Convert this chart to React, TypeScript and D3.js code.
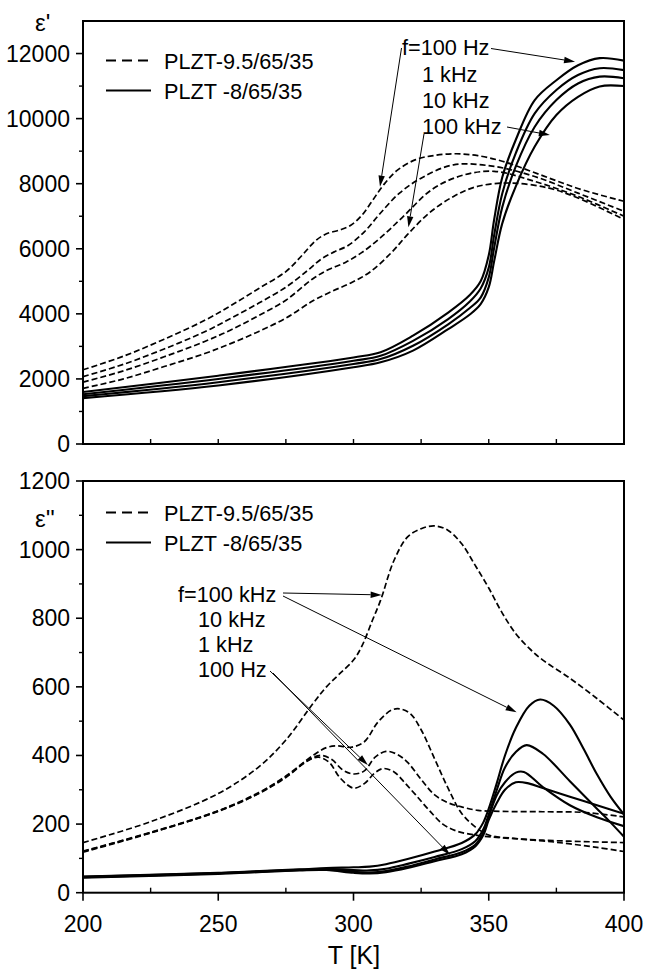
import React from 'react';
import * as d3 from 'd3';

type P = [number, number];

// ---------- Data: ε' (top panel) ----------
// PLZT-9.5/65/35 (dashed)
const epsR_95_100Hz: P[] = [[200,2280],[215,2700],[230,3220],[245,3800],[255,4270],[265,4780],[275,5300],[281,5800],[286,6250],[290,6460],[295,6580],[299,6720],[303,7020],[307,7480],[311,7950],[316,8400],[323,8740],[330,8870],[338,8920],[346,8860],[355,8690],[365,8400],[375,8090],[385,7800],[400,7460]];
const epsR_95_1kHz: P[] = [[200,2070],[215,2450],[230,2920],[245,3450],[255,3880],[265,4330],[275,4820],[283,5330],[288,5680],[293,5910],[298,6100],[304,6520],[310,7100],[317,7710],[325,8170],[337,8580],[352,8530],[367,8220],[383,7710],[400,7150]];
const epsR_95_10kHz: P[] = [[200,1900],[215,2250],[230,2680],[245,3150],[255,3520],[265,3950],[275,4420],[285,5080],[291,5370],[297,5580],[303,5880],[310,6340],[318,6960],[329,7820],[340,8250],[352,8380],[367,8070],[383,7610],[400,7000]];
const epsR_95_100kHz: P[] = [[200,1710],[215,2000],[230,2380],[245,2780],[255,3100],[265,3460],[275,3870],[285,4400],[292,4690],[299,4950],[306,5280],[314,5880],[320,6440],[328,7100],[337,7610],[346,7920],[358,8020],[372,7870],[383,7560],[400,6900]];
// PLZT-8/65/35 (solid)
const epsR_8_100Hz: P[] = [[200,1600],[250,2100],[300,2660],[310,2820],[322,3330],[335,4040],[343,4580],[347,5000],[350,5800],[352,6900],[355,8200],[360,9350],[367,10570],[375,11180],[383,11640],[391,11860],[400,11780]];
const epsR_8_1kHz: P[] = [[200,1530],[250,2000],[300,2560],[310,2710],[322,3170],[335,3840],[343,4380],[347,4780],[350,5420],[352,6420],[355,7700],[360,8940],[367,10160],[375,10880],[383,11340],[391,11550],[400,11490]];
const epsR_8_10kHz: P[] = [[200,1470],[250,1900],[300,2460],[310,2610],[322,3020],[335,3680],[343,4180],[347,4500],[350,5120],[352,6030],[355,7280],[360,8530],[367,9750],[375,10570],[383,11080],[391,11290],[400,11240]];
const epsR_8_100kHz: P[] = [[200,1410],[250,1800],[300,2360],[310,2510],[322,2870],[335,3530],[343,3980],[347,4300],[350,4820],[352,5620],[355,6780],[360,7920],[367,9140],[375,10110],[383,10670],[391,10990],[400,11000]];

// ---------- Data: ε'' (bottom panel) ----------
// PLZT-9.5/65/35 (dashed)
const epsI_95_a: P[] = [[200,146],[225,207],[250,289],[265,367],[275,445],[285,551],[290,600],[295,639],[300,678],[303,717],[307,794],[310,852],[315,969],[320,1037],[325,1061],[330,1069],[335,1056],[340,1017],[345,954],[350,888],[355,815],[360,755],[365,712],[370,678],[380,625],[390,566],[400,503]];
const epsI_95_b: P[] = [[200,121],[225,176],[250,239],[265,292],[275,340],[285,400],[290,423],[294,428],[299,424],[304,440],[309,497],[314,532],[317,536],[321,522],[325,475],[330,390],[335,304],[340,231],[345,192],[350,168],[360,158],[375,147],[390,132],[400,120]];
const epsI_95_c: P[] = [[200,120],[225,175],[250,238],[265,290],[275,338],[284,390],[288,400],[292,388],[296,358],[300,346],[304,355],[308,395],[312,412],[316,404],[320,380],[325,330],[330,285],[335,262],[340,250],[346,240],[355,237],[370,236],[385,234],[400,221]];
const epsI_95_d: P[] = [[200,118],[225,174],[250,237],[265,289],[275,336],[283,384],[287,395],[291,380],[295,335],[300,305],[304,318],[308,350],[311,362],[315,352],[319,320],[323,285],[328,240],[333,200],[338,180],[345,168],[355,160],[370,153],[385,149],[400,146]];
// PLZT-8/65/35 (solid)
const epsI_8_100kHz: P[] = [[200,47],[250,58],[280,68],[290,72],[300,74],[306,76],[312,83],[320,98],[330,120],[340,145],[345,170],[348,205],[350,245],[353,320],[356,400],[360,480],[365,545],[369,563],[374,545],[380,490],[385,420],[390,345],[395,280],[400,228]];
const epsI_8_10kHz: P[] = [[200,46],[250,57],[280,67],[290,69],[300,66],[306,65],[312,70],[320,84],[330,104],[340,127],[345,150],[348,185],[350,228],[353,300],[356,365],[360,410],[364,430],[370,405],[380,325],[390,245],[395,205],[400,163]];
const epsI_8_1kHz: P[] = [[200,45],[250,56],[280,66],[290,67],[300,61],[306,59],[312,63],[320,76],[330,97],[340,118],[345,140],[348,175],[350,222],[353,285],[356,322],[360,350],[363,352],[370,308],[380,255],[390,220],[400,194]];
const epsI_8_100Hz: P[] = [[200,44],[250,55],[280,65],[290,66],[300,58],[306,56],[312,60],[320,72],[330,92],[340,112],[345,135],[348,168],[350,212],[353,262],[356,300],[360,322],[365,318],[370,305],[380,280],[390,255],[400,230]];

// ---------- Axes ----------
const xDomain: P = [200, 400];
const xMajorTicks = [200, 250, 300, 350, 400];
const xMinorTicks = [225, 275, 325, 375];
const topDomain: P = [0, 13000];
const topMajorTicks = [0, 2000, 4000, 6000, 8000, 10000, 12000];
const topMinorTicks = [1000, 3000, 5000, 7000, 9000, 11000];
const botDomain: P = [0, 1200];
const botMajorTicks = [0, 200, 400, 600, 800, 1000, 1200];
const botMinorTicks = [100, 300, 500, 700, 900, 1100];

const legendLabels = ['PLZT-9.5/65/35', 'PLZT -8/65/35'];
const topFreqLabels = ['f=100 Hz', '1 kHz', '10 kHz', '100 kHz'];
const botFreqLabels = ['f=100 kHz', '10 kHz', '1 kHz', '100 Hz'];

// arrow targets (data coords)
const topArrowTargets: P[] = [[381.9, 11750], [309.8, 7908], [320.3, 6660], [372.6, 9496]];
const botArrowTargets: P[] = [[310.4, 868], [360.3, 526], [305.3, 372], [335.7, 110]];

const FONT = "'Liberation Sans', Arial, Helvetica, sans-serif";
const X0 = 83, X1 = 624;
const TOP_Y0 = 444, TOP_Y1 = 21;
const BOT_Y0 = 892.7, BOT_Y1 = 481;

const x = d3.scaleLinear().domain(xDomain).range([X0, X1]);
const yTop = d3.scaleLinear().domain(topDomain).range([TOP_Y0, TOP_Y1]);
const yBot = d3.scaleLinear().domain(botDomain).range([BOT_Y0, BOT_Y1]);

function lineFor(y: d3.ScaleLinear<number, number>) {
  return d3.line<P>().x(d => x(d[0])).y(d => y(d[1])).curve(d3.curveCatmullRom.alpha(0.5));
}

function Arrow({ x1, y1, x2, y2, w = 1 }: { x1: number; y1: number; x2: number; y2: number; w?: number }) {
  const ang = Math.atan2(y2 - y1, x2 - x1);
  const L = 11, hw = 3.2;
  const bx = x2 - L * Math.cos(ang), by = y2 - L * Math.sin(ang);
  const px = -Math.sin(ang) * hw, py = Math.cos(ang) * hw;
  return (
    <g>
      <line x1={x1} y1={y1} x2={bx} y2={by} stroke="#000" strokeWidth={w} />
      <polygon points={`${x2},${y2} ${bx + px},${by + py} ${bx - px},${by - py}`} fill="#000" />
    </g>
  );
}

function Panel({ y, y0, y1, major, minor, showXLabels, dashed, solid, clipId }: any) {
  const ln = lineFor(y);
  return (
    <g>
      <defs>
        <clipPath id={clipId}><rect x={X0} y={y1} width={X1 - X0} height={y0 - y1} /></clipPath>
      </defs>
      <g clipPath={`url(#${clipId})`} fill="none" stroke="#000">
        {dashed.map((s: P[], i: number) => (
          <path key={'d' + i} d={ln(s) || ''} strokeWidth={1.7} strokeDasharray="6,3" />
        ))}
        {solid.map((s: P[], i: number) => (
          <path key={'s' + i} d={ln(s) || ''} strokeWidth={2.1} />
        ))}
      </g>
      <rect x={X0} y={y1} width={X1 - X0} height={y0 - y1} fill="none" stroke="#000" strokeWidth={2} />
      {major.map((t: number) => (
        <g key={'ym' + t}>
          <line x1={X0 - 7} x2={X0} y1={y(t)} y2={y(t)} stroke="#000" strokeWidth={1.6} />
          <text x={70} y={y(t) + 8} textAnchor="end" fontSize={23} fontFamily={FONT}>{t}</text>
        </g>
      ))}
      {minor.map((t: number) => (
        <line key={'yn' + t} x1={X0 - 4} x2={X0} y1={y(t)} y2={y(t)} stroke="#000" strokeWidth={1.4} />
      ))}
      {showXLabels ? (
        <g>
          {xMajorTicks.map(t => (
            <g key={'xm' + t}>
              <line x1={x(t)} x2={x(t)} y1={y0} y2={y0 + 8} stroke="#000" strokeWidth={1.6} />
              <text x={x(t)} y={931.5} textAnchor="middle" fontSize={23} fontFamily={FONT}>{t}</text>
            </g>
          ))}
          {xMinorTicks.map(t => (
            <line key={'xn' + t} x1={x(t)} x2={x(t)} y1={y0} y2={y0 - 5} stroke="#000" strokeWidth={1.4} />
          ))}
        </g>
      ) : (
        <g>
          {[...xMajorTicks, ...xMinorTicks].map(t => (
            <line key={'xt' + t} x1={x(t)} x2={x(t)} y1={y0} y2={y0 - 5} stroke="#000" strokeWidth={1.4} />
          ))}
        </g>
      )}
    </g>
  );
}

function Legend({ yLine1, yLine2 }: { yLine1: number; yLine2: number }) {
  return (
    <g fontFamily={FONT} fontSize={21.7}>
      <line x1={106} x2={151} y1={yLine1} y2={yLine1} stroke="#000" strokeWidth={2} strokeDasharray="10,6" />
      <text x={164} y={yLine1 + 8}>{legendLabels[0]}</text>
      <line x1={106} x2={151} y1={yLine2} y2={yLine2} stroke="#000" strokeWidth={2.2} />
      <text x={164} y={yLine2 + 8}>{legendLabels[1]}</text>
    </g>
  );
}

export default function App() {
  const ta = topArrowTargets.map(p => [x(p[0]), yTop(p[1])]);
  const ba = botArrowTargets.map(p => [x(p[0]), yBot(p[1])]);
  return (
    <svg width={646} height={973} style={{ position: 'absolute', left: 0, top: 0, background: '#fff' }}>
      <rect width={646} height={973} fill="#fff" />
      <Panel y={yTop} y0={TOP_Y0} y1={TOP_Y1} major={topMajorTicks} minor={topMinorTicks} showXLabels={false}
        dashed={[epsR_95_100Hz, epsR_95_1kHz, epsR_95_10kHz, epsR_95_100kHz]}
        solid={[epsR_8_100Hz, epsR_8_1kHz, epsR_8_10kHz, epsR_8_100kHz]} clipId="clipTop" />
      <Panel y={yBot} y0={BOT_Y0} y1={BOT_Y1} major={botMajorTicks} minor={botMinorTicks} showXLabels={true}
        dashed={[epsI_95_a, epsI_95_b, epsI_95_c, epsI_95_d]}
        solid={[epsI_8_100kHz, epsI_8_10kHz, epsI_8_1kHz, epsI_8_100Hz]} clipId="clipBot" />

      <text x={35} y={31} fontSize={24} fontFamily={FONT}>ε'</text>
      <text x={35} y={527} fontSize={24} fontFamily={FONT}>ε''</text>
      <text x={354} y={964} fontSize={25} fontFamily={FONT} textAnchor="middle">T [K]</text>

      <Legend yLine1={60.5} yLine2={90.5} />
      <Legend yLine1={512.5} yLine2={542.5} />

      <g fontFamily={FONT} fontSize={21.7}>
        <text x={402} y={55}>{topFreqLabels[0]}</text>
        <text x={422} y={81.5}>{topFreqLabels[1]}</text>
        <text x={422} y={107.5}>{topFreqLabels[2]}</text>
        <text x={422} y={133.5}>{topFreqLabels[3]}</text>
      </g>
      <Arrow x1={491} y1={48.5} x2={ta[0][0]} y2={ta[0][1]} />
      <Arrow x1={401.5} y1={48} x2={ta[1][0]} y2={ta[1][1]} />
      <Arrow x1={424} y1={134} x2={ta[2][0]} y2={ta[2][1]} />
      <Arrow x1={507} y1={127} x2={ta[3][0]} y2={ta[3][1]} />

      <g fontFamily={FONT} fontSize={21.7}>
        <text x={178} y={601.5}>{botFreqLabels[0]}</text>
        <text x={198} y={626.5}>{botFreqLabels[1]}</text>
        <text x={198} y={651.5}>{botFreqLabels[2]}</text>
        <text x={198} y={676.5}>{botFreqLabels[3]}</text>
      </g>
      <Arrow x1={283} y1={593} x2={ba[0][0]} y2={ba[0][1]} />
      <Arrow x1={283} y1={596} x2={ba[1][0]} y2={ba[1][1]} />
      <Arrow x1={270} y1={671} x2={ba[2][0]} y2={ba[2][1]} />
      <Arrow x1={273} y1={673} x2={ba[3][0]} y2={ba[3][1]} />
    </svg>
  );
}
